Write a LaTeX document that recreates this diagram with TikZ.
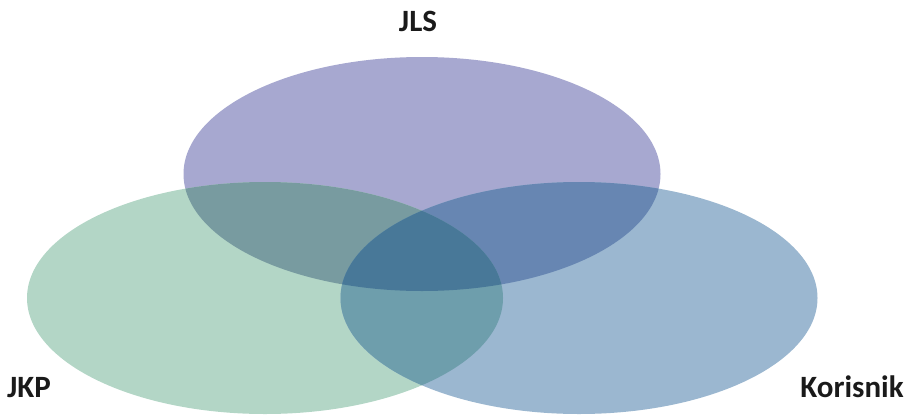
\documentclass[tikz,border=0pt]{standalone}
\usepackage{fontspec}
\setmainfont{Carlito}
\usetikzlibrary{positioning}
\definecolor{jlscolor}{RGB}{167,168,208}
\definecolor{jkpcolor}{RGB}{179,214,198}
\definecolor{korcolor}{RGB}{155,183,208}
\definecolor{jlsjkpcolor}{RGB}{120,155,160}
\definecolor{jlskorcolor}{RGB}{103,134,178}
\definecolor{jkpkorcolor}{RGB}{110,158,172}
\definecolor{allcolor}{RGB}{72,120,152}
\definecolor{labelcolor}{RGB}{26,26,26}

% set outlines
\def\pathjls{(422,174) ellipse [x radius=238.5pt, y radius=117pt]}
\def\pathjkp{(265,298) ellipse [x radius=238pt, y radius=116pt]}
\def\pathkor{(579,298) ellipse [x radius=238.5pt, y radius=116pt]}

\begin{document}
\begin{tikzpicture}[x=1pt, y=-1pt,
  % label style
  setlabel/.style={
    font=\fontsize{31}{36}\selectfont\bfseries,
    text=labelcolor,
    inner sep=0pt,
    anchor=base
  }
]
\useasboundingbox (0,0) rectangle (910,415);

% ===== SETS =====
\fill[jlscolor] \pathjls;
\fill[jkpcolor] \pathjkp;
\fill[korcolor] \pathkor;

% ===== OVERLAPS =====
\begin{scope}
  \clip \pathjls;
  \fill[jlsjkpcolor] \pathjkp;
\end{scope}
\begin{scope}
  \clip \pathjls;
  \fill[jlskorcolor] \pathkor;
\end{scope}
\begin{scope}
  \clip \pathjkp;
  \fill[jkpkorcolor] \pathkor;
\end{scope}
\begin{scope}
  \clip \pathjls;
  \clip \pathjkp;
  \fill[allcolor] \pathkor;
\end{scope}

% ===== LABELS =====
\node[setlabel] (jls) at (418,31) {JLS};
\node[setlabel] (jkp) at (29,397) {JKP};
\node[setlabel] (kor) at (852,397) {Korisnik};

\end{tikzpicture}
\end{document}
